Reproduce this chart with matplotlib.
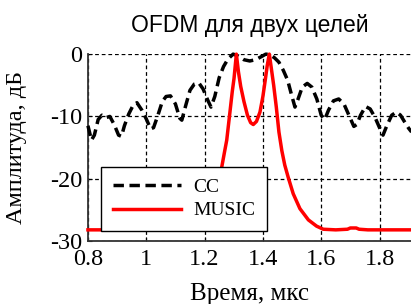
import matplotlib
matplotlib.use("Agg")
import matplotlib.pyplot as plt

# CC (cross-correlation) curve, dB
cc_t = [0.800, 0.812, 0.822, 0.835, 0.848, 0.862, 0.875, 0.890, 0.905, 0.915,
        0.925, 0.940, 0.955, 0.968, 0.985, 1.000, 1.015, 1.025, 1.040, 1.055,
        1.068, 1.083, 1.100, 1.115, 1.122, 1.135, 1.150, 1.165, 1.180, 1.195,
        1.210, 1.222, 1.235, 1.250, 1.265, 1.280, 1.298, 1.315, 1.335, 1.355,
        1.375, 1.395, 1.410, 1.425, 1.440, 1.455, 1.470, 1.485, 1.498, 1.510,
        1.520, 1.535, 1.552, 1.568, 1.585, 1.600, 1.612, 1.625, 1.642, 1.660,
        1.678, 1.695, 1.712, 1.722, 1.735, 1.752, 1.768, 1.785, 1.800, 1.812,
        1.825, 1.842, 1.858, 1.872, 1.885, 1.900, 1.910]
cc_db = [-11.5, -13.8, -13.0, -10.5, -9.8, -10.2, -10.0, -11.3, -13.0, -13.2,
         -11.5, -9.6, -8.2, -7.8, -9.0, -10.4, -12.0, -11.8, -9.8, -7.6,
         -6.8, -6.7, -8.0, -10.3, -10.6, -8.3, -5.8, -4.8, -4.6, -5.6,
         -7.3, -8.5, -6.8, -3.8, -2.0, -0.8, 0.0, -0.3, -0.9, -1.1,
         -0.9, -0.4, 0.0, -0.1, -0.6, -1.3, -2.6, -4.2, -6.5, -8.5,
         -7.3, -5.3, -4.7, -5.3, -7.2, -9.8, -10.5, -9.0, -7.5, -7.2,
         -8.0, -9.8, -11.6, -11.3, -9.8, -8.4, -8.8, -10.2, -11.8, -13.0,
         -11.5, -9.8, -9.3, -9.8, -10.8, -11.9, -12.5]

# MUSIC pseudo-spectrum, dB
mu_t = [0.800, 1.200, 1.220, 1.235, 1.250, 1.259, 1.268, 1.276, 1.287, 1.295,
        1.301, 1.309, 1.316, 1.324, 1.335, 1.347, 1.358, 1.367, 1.378, 1.390,
        1.400, 1.408, 1.415, 1.422, 1.429, 1.437, 1.446, 1.455, 1.465, 1.475,
        1.487, 1.504, 1.527, 1.556, 1.584, 1.607, 1.650, 1.690, 1.700, 1.720,
        1.730, 1.760, 1.910]
mu_db = [-28.2, -28.2, -28.0, -26.0, -21.5, -18.1, -15.8, -13.8, -9.3, -6.0,
         -3.9, 0.0, -2.8, -5.2, -7.6, -9.8, -11.0, -11.3, -10.8, -9.3,
         -6.8, -4.2, -1.8, 0.0, -2.3, -5.0, -8.5, -12.5, -15.5, -17.8,
         -19.8, -22.4, -24.8, -26.6, -27.6, -28.1, -28.2, -28.1, -27.9, -27.9,
         -28.1, -28.2, -28.2]

title = "OFDM для двух целей"
xlabel = "Время, мкс"
ylabel = "Амплитуда, дБ"
xticks = [0.8, 1.0, 1.2, 1.4, 1.6, 1.8]
xticklabels = ["0.8", "1", "1.2", "1.4", "1.6", "1.8"]
yticks = [-30, -20, -10, 0]
yticklabels = ["-30", "-20", "-10", "0"]

serif = ["Liberation Serif", "DejaVu Serif"]
sans = ["Liberation Sans", "DejaVu Sans"]

fig = plt.figure(figsize=(4.11, 3.04), dpi=100)
ax = fig.add_axes([0.214, 0.207, 0.786, 0.615])

ax.plot(cc_t, cc_db, color="black", lw=2.5, dashes=(3.0, 1.6),
        dash_capstyle="butt", label="CC", clip_on=False, zorder=3)
ax.plot(mu_t, mu_db, color="#ff0000", lw=2.5, label="MUSIC",
        clip_on=False, zorder=4)

ax.set_xlim(0.8, 1.908)
ax.set_ylim(-30, 0)
ax.set_xticks(xticks)
ax.set_xticklabels(xticklabels, fontfamily=serif, fontsize=17.5)
ax.set_yticks(yticks)
ax.set_yticklabels(yticklabels, fontfamily=serif, fontsize=17.5)
ax.tick_params(axis="both", direction="in", length=3, width=0.8)
ax.tick_params(axis="x", pad=6)
ax.tick_params(axis="y", pad=4)

ax.grid(True, color="black", lw=0.9, linestyle=(0, (3.0, 2.3)))
for s in ["top", "right"]:
    ax.spines[s].set_visible(False)
for s in ["left", "bottom"]:
    ax.spines[s].set_linewidth(1.3)
    ax.spines[s].set_color("#333333")

ax.set_title(title, fontfamily=sans, fontsize=16.5, pad=16)
ax.set_xlabel(xlabel, fontfamily=serif, fontsize=18)
ax.set_ylabel(ylabel, fontfamily=serif, fontsize=17.5)
ax.xaxis.set_label_coords(0.5, -0.225)
ax.yaxis.set_label_coords(-0.19, 0.5)

leg = ax.legend(loc="lower left", bbox_to_anchor=(0.04, 0.053),
                prop={"family": serif, "size": 14}, fancybox=False,
                framealpha=1, edgecolor="black", handlelength=3.5,
                handletextpad=0.67, labelspacing=0.3, borderpad=0.6,
                borderaxespad=0)
leg.get_frame().set_linewidth(1.0)

fig.savefig("out.png", dpi=100)
